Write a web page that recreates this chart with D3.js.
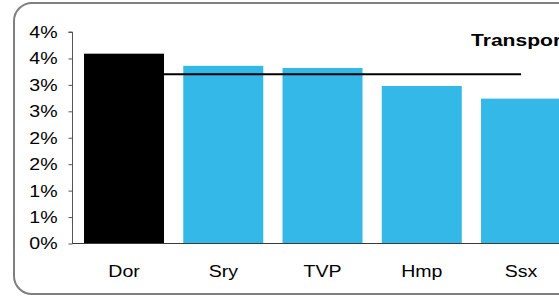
<!DOCTYPE html>
<html>
<head>
<meta charset="utf-8">
<script src="https://cdn.jsdelivr.net/npm/d3@7"></script>
<style>
	body { margin: 0; background: #ffffff; }
	text { font-family: "Liberation Sans", Arial, sans-serif; }
</style>
</head>
<body>
<div id="d3-container"></div>
<script>
// chart data
const regions = ["Dor", "Sry", "TVP", "Hmp", "Ssx"];
const shares = [3.59, 3.36, 3.32, 2.98, 2.74];
const barColors = ["#000000", "#33b8e8", "#33b8e8", "#33b8e8", "#33b8e8"];
const benchmark = [3.2, 3.2, 3.2, 3.2, 3.2];
const tickValues = [0, 0.5, 1, 1.5, 2, 2.5, 3, 3.5, 4];
const tickLabels = ["0%", "1%", "1%", "2%", "2%", "3%", "3%", "4%", "4%"];
const title = "Transport";

const width = 559, height = 296;
const stretch = 1.15; // text in the picture is a bit wide

const svg = d3.select("#d3-container").append("svg")
	.attr("width", width)
	.attr("height", height)
	.style("display", "block")
	.style("background", "#ffffff");

// rounded frame, runs off the right edge
svg.append("rect")
	.attr("x", 14)
	.attr("y", 3)
	.attr("width", 700)
	.attr("height", 291)
	.attr("rx", 18)
	.attr("fill", "none")
	.attr("stroke", "#7f7f7f")
	.attr("stroke-width", 2);

const step = 99.25;
const x = d3.scaleBand()
	.domain(regions)
	.range([74.4, 74.4 + step * regions.length])
	.paddingInner(0.194)
	.paddingOuter(0.097);

const y = d3.scaleLinear()
	.domain([0, 4])
	.range([243.5, 32]);

// bars
svg.selectAll(".bar")
	.data(regions)
	.enter().append("rect")
	.attr("class", "bar")
	.attr("x", d => x(d))
	.attr("y", (d, i) => y(shares[i]))
	.attr("width", x.bandwidth())
	.attr("height", (d, i) => y(0) - y(shares[i]))
	.attr("fill", (d, i) => barColors[i]);

// x baseline
svg.append("line")
	.attr("x1", 72).attr("x2", width)
	.attr("y1", y(0)).attr("y2", y(0))
	.attr("stroke", "#3a3a3a")
	.attr("stroke-width", 1);

// benchmark line
const line = d3.line()
	.x((d, i) => x(regions[i]) + x.bandwidth() / 2)
	.y(d => y(d));
svg.append("path")
	.datum(benchmark)
	.attr("d", line)
	.attr("fill", "none")
	.attr("stroke", "#000000")
	.attr("stroke-width", 2);

// y axis
const yAxis = d3.axisLeft(y)
	.tickValues(tickValues)
	.tickSize(4)
	.tickPadding(11)
	.tickFormat((d, i) => tickLabels[i]);
const ag = svg.append("g")
	.attr("transform", "translate(72.5,0)")
	.call(yAxis);
ag.select(".domain").attr("stroke", "#555555").attr("d", `M-4,${y(4)}H0V${y(0)}`);
ag.selectAll(".tick line").attr("stroke", "#555555");
ag.selectAll(".tick text")
	.attr("font-size", 17)
	.attr("fill", "#000000")
	.attr("font-family", "Liberation Sans, Arial, sans-serif")
	.attr("transform", "scale(" + stretch + ",1)")
	.attr("x", -15 / stretch);

// category labels
svg.selectAll(".cat")
	.data(regions)
	.enter().append("g")
	.attr("class", "cat")
	.attr("transform", d => `translate(${x(d) + x.bandwidth() / 2},277) scale(${stretch},1)`)
	.append("text")
	.attr("text-anchor", "middle")
	.attr("font-size", 17)
	.text(d => d);

// title, wider than the rest, runs off the right edge like the original
svg.append("g")
	.attr("transform", `translate(471,45.5) scale(1.24,1)`)
	.append("text")
	.attr("font-size", 17)
	.attr("font-weight", "bold")
	.text(title);
</script>
</body>
</html>
